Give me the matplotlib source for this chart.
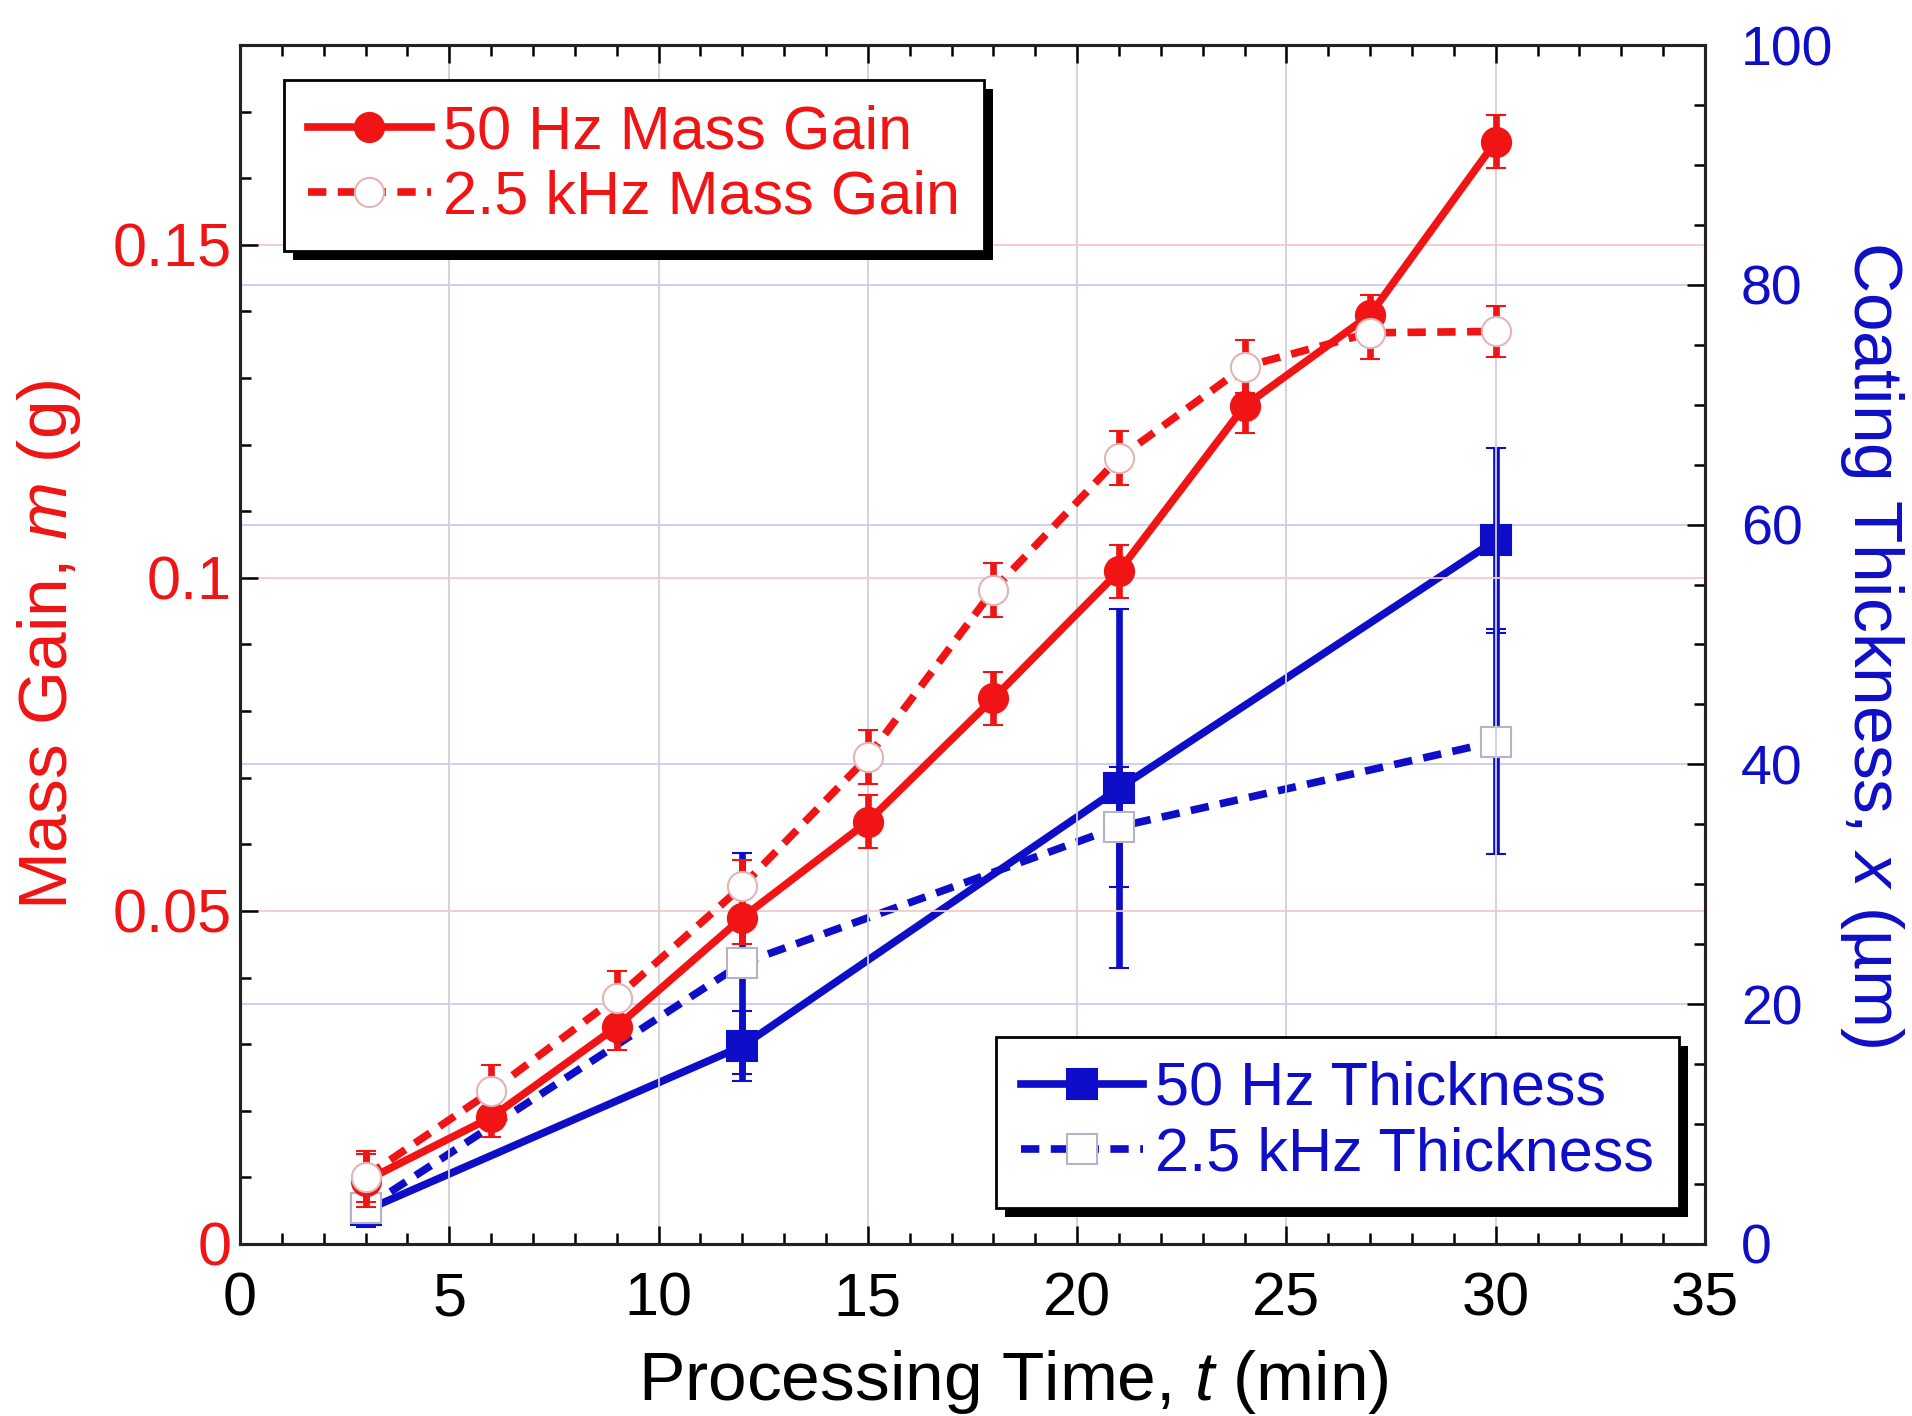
import matplotlib
matplotlib.use('Agg')
import matplotlib.pyplot as plt
from matplotlib.ticker import MultipleLocator, FuncFormatter
from matplotlib.patches import Rectangle
from matplotlib.transforms import IdentityTransform

plt.rcParams['font.family'] = ['Liberation Sans', 'DejaVu Sans']
plt.rcParams['mathtext.fontset'] = 'custom'
plt.rcParams['mathtext.rm'] = 'Liberation Sans'
plt.rcParams['mathtext.it'] = 'Liberation Sans:italic'

RED = '#f01414'
BLUE = '#0e0ec8'

# mass gain (g), every 3 min
t_mass = [3, 6, 9, 12, 15, 18, 21, 24, 27, 30]
mass_50hz = [0.0095, 0.019, 0.0326, 0.049, 0.0634, 0.0819, 0.101, 0.1258, 0.1395, 0.1655]
mass_50hz_err = [0.004, 0.003, 0.0035, 0.004, 0.004, 0.004, 0.004, 0.004, 0.003, 0.004]
mass_2k = [0.0101, 0.0229, 0.037, 0.0537, 0.0731, 0.0982, 0.118, 0.1317, 0.1368, 0.137]
mass_2k_err = [0.0038, 0.004, 0.004, 0.004, 0.004, 0.004, 0.004, 0.004, 0.004, 0.0038]

# coating thickness (um)
t_thick = [3, 12, 21, 30]
thick_50hz = [2.8, 16.5, 38.0, 58.7]
thick_50hz_err = [1.4, 2.9, 15.0, 7.7]
thick_2k = [3.0, 23.4, 34.8, 41.9]
thick_2k_err = [0.5, 9.2, 5.0, 9.4]

fig = plt.figure(figsize=(19.12, 14.16), dpi=100)
ax = fig.add_axes([0.1255, 0.1215, 0.7662, 0.8467])
ax2 = ax.twinx()
ax.set_zorder(2)
ax2.set_zorder(1)
ax.patch.set_visible(False)

dash = (0, (2.4, 1.5))
lw = 5.5
ms = 21
eb_kw = dict(elinewidth=4.8, capsize=7, capthick=4.5)

# thickness on the right axis
eb3 = ax2.errorbar(t_thick, thick_50hz, yerr=thick_50hz_err, color=BLUE, lw=lw,
                   marker='s', ms=ms, mfc=BLUE, mec=BLUE, mew=1.5, zorder=3, **eb_kw)
eb4 = ax2.errorbar(t_thick, thick_2k, yerr=thick_2k_err, color=BLUE, lw=lw, ls=dash,
                   marker='s', ms=ms, mfc='white', mec='#b4b4c8', mew=1.5, zorder=4, **eb_kw)
eb4[2][0].set_linestyle('-')

# mass gain on the left axis
eb1 = ax.errorbar(t_mass, mass_50hz, yerr=mass_50hz_err, color=RED, lw=lw,
                  marker='o', ms=ms, mfc=RED, mec=RED, mew=1.5, zorder=3, **eb_kw)
eb2 = ax.errorbar(t_mass, mass_2k, yerr=mass_2k_err, color=RED, lw=lw, ls=dash,
                  marker='o', ms=ms, mfc='white', mec='#e4b4b4', mew=1.5, zorder=4, **eb_kw)
eb2[2][0].set_linestyle('-')

ax.set_xlim(0, 35)
ax.set_ylim(0, 0.18)
ax2.set_ylim(0, 100)

ax.xaxis.set_major_locator(MultipleLocator(5))
ax.xaxis.set_minor_locator(MultipleLocator(1))
ax.yaxis.set_major_locator(MultipleLocator(0.05))
ax.yaxis.set_minor_locator(MultipleLocator(0.01))
ax.yaxis.set_major_formatter(FuncFormatter(lambda v, p: f'{v:g}'))
ax2.yaxis.set_major_locator(MultipleLocator(20))
ax2.yaxis.set_minor_locator(MultipleLocator(5))

ax.grid(axis='x', which='major', color='#cfcfe0', lw=1.3)
ax.grid(axis='y', which='major', color='#f4caca', lw=1.3)
ax2.grid(axis='y', which='major', color='#cacaf2', lw=1.3)
ax.set_axisbelow(True)
ax2.set_axisbelow(True)

ax.tick_params(axis='x', which='both', top=True, direction='in', labelsize=44, pad=20, colors='black')
ax.tick_params(axis='y', which='both', direction='in', labelsize=44, pad=6, labelcolor=RED)
ax2.tick_params(axis='y', which='both', direction='in', labelsize=40, pad=26, labelcolor=BLUE)
for a in (ax, ax2):
    a.tick_params(which='major', length=13, width=1.8)
    a.tick_params(which='minor', length=8, width=1.8)
    for s in a.spines.values():
        s.set_linewidth(2.2)
        s.set_color('#222222')

ax.set_xlabel('Processing Time, $t$ (min)', fontsize=50)
ax.xaxis.set_label_coords(0.528, -0.087)
ax.set_ylabel('Mass Gain, $m$ (g)', fontsize=50, color=RED)
ax.yaxis.set_label_coords(-0.107, 0.5)
ax2.set_ylabel('Coating Thickness, $x$ (\u00b5m)', fontsize=50, color=BLUE,
               rotation=-90, va='bottom')
ax2.yaxis.set_label_coords(1.0905, 0.5)

leg_kw = dict(fontsize=44, numpoints=1, handlelength=2.0, handletextpad=0.2,
              borderpad=0.4, labelspacing=0.14, borderaxespad=0, fancybox=False,
              framealpha=1, edgecolor='black')
leg1 = ax.legend([eb1[0], eb2[0]], ['50 Hz Mass Gain', '2.5 kHz Mass Gain'],
                 loc='upper left', bbox_to_anchor=(0.030, 0.971), labelcolor=RED, **leg_kw)
ax.add_artist(leg1)
leg2 = ax.legend([eb3[0], eb4[0]], ['50 Hz Thickness', '2.5 kHz Thickness'],
                 loc='lower right', bbox_to_anchor=(0.982, 0.030), labelcolor=BLUE, **leg_kw)
for leg in (leg1, leg2):
    leg.get_frame().set_linewidth(2)

# black drop shadows behind the legends
fig.canvas.draw()
for leg in (leg1, leg2):
    bb = leg.get_frame().get_window_extent()
    sh = Rectangle((bb.x0 + 9, bb.y0 - 9), bb.width, bb.height, transform=IdentityTransform(),
                   facecolor='black', edgecolor='none', zorder=leg.get_zorder() - 0.1)
    ax.add_artist(sh)

fig.savefig('out.png', dpi=100)
